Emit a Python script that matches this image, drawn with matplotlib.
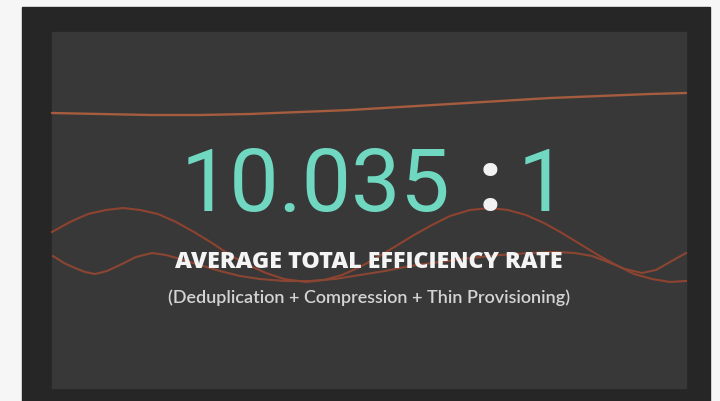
import matplotlib
matplotlib.use('Agg')
import matplotlib.pyplot as plt
from matplotlib.patches import Rectangle

# value shown on the tile
ratio_value = '10.035'
ratio_sep = ':'
ratio_base = '1'
title = 'AVERAGE TOTAL EFFICIENCY RATE'
subtitle = '(Deduplication + Compression + Thin Provisioning)'

# decorative lines (pixel coords, y down)
top_x = [52, 100, 150, 200, 250, 300, 350, 400, 450, 500, 550, 600, 650, 686]
top_y = [113, 114, 115, 115, 114, 112, 110, 107, 104, 101, 98, 96, 94, 93]

wave1_x = [52, 70, 88, 106, 123, 140, 158, 176, 194, 212, 230, 248, 266, 284,
           306, 324, 342, 360, 378, 396, 414, 432, 450, 470, 490, 508, 526,
           544, 562, 580, 598, 616, 634, 652, 670, 686]
wave1_y = [232, 222, 214, 210, 208, 210, 214, 222, 232, 243, 255, 265, 273, 279,
           282, 280, 275, 267, 257, 246, 235, 225, 216, 210, 208, 210, 215,
           223, 233, 244, 255, 265, 274, 279, 282, 281]

wave2_x = [53, 64, 75, 85, 95, 107, 120, 136, 152, 166, 180, 200, 220, 240,
           260, 285, 310, 335, 360, 385, 410, 440, 470, 500, 530, 555, 575,
           592, 608, 625, 642, 656, 670, 686]
wave2_y = [256, 263, 268, 272, 274, 271, 265, 257, 253, 255, 259, 265, 271, 276,
           279, 281, 281, 279, 275, 271, 266, 262, 258, 255, 253, 252, 253,
           256, 262, 269, 273, 270, 262, 253]

W, H = 720, 401
fig = plt.figure(figsize=(7.2, 4.01), dpi=100, facecolor='#f6f6f6')
ax = fig.add_axes([0, 0, 1, 1])
ax.set_xlim(0, W)
ax.set_ylim(H, 0)
ax.axis('off')

# frame + inner panel
ax.add_patch(Rectangle((22, 7), 688, 400, color='#262626', zorder=0))
ax.add_patch(Rectangle((52, 32), 634, 356, color='#383838', zorder=1))

ax.plot(top_x, top_y, color='#a65c3e', lw=1.7, solid_capstyle='round', zorder=2)
ax.plot(wave1_x, wave1_y, color='#8e4330', lw=1.5, solid_joinstyle='round', zorder=2)
ax.plot(wave2_x, wave2_y, color='#8a4633', lw=1.5, solid_joinstyle='round', zorder=2)

fig.canvas.draw()
r = fig.canvas.get_renderer()


def fit(t, width):
    # scale font so the text spans the width seen in the picture
    w = t.get_window_extent(r).width
    t.set_fontsize(t.get_fontsize() * width / w)


big = dict(fontfamily='Roboto', fontsize=64, va='baseline', zorder=3)
t1 = ax.text(181, 211, ratio_value, color='#70d8c1', ha='left', **big)
fit(t1, 270)
fs = t1.get_fontsize()
ax.text(490, 211, ratio_sep, color='#f2f2f2', ha='center', fontweight='bold', **big).set_fontsize(fs)
ax.text(542, 211, ratio_base, color='#70d8c1', ha='center', **big).set_fontsize(fs)

t2 = ax.text(369, 268, title, color='#f4f4f4', ha='center', va='baseline',
             fontfamily='Open Sans', fontweight=800, fontsize=14, zorder=3)
fit(t2, 388)
t3 = ax.text(369, 303, subtitle, color='#d4d4d4', ha='center', va='baseline',
             fontfamily='Lato', fontweight='semibold', fontsize=10, zorder=3)
fit(t3, 404)

fig.savefig('out.png', dpi=100, facecolor=fig.get_facecolor())
